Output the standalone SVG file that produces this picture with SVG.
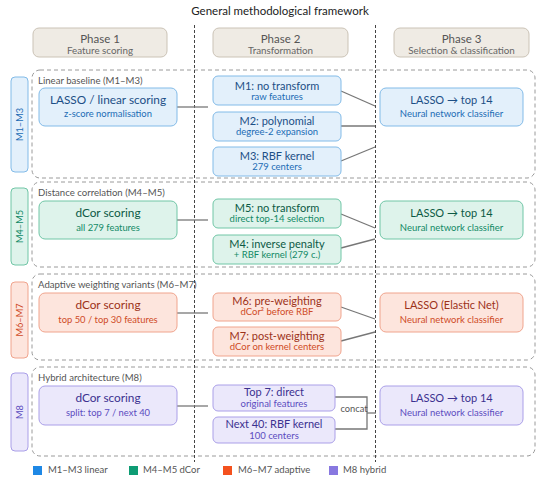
<svg xmlns="http://www.w3.org/2000/svg" width="550" height="487" viewBox="0 0 550 487">
<style>
text{font-family:Lato,"Open Sans","DejaVu Sans",sans-serif;text-anchor:middle;dominant-baseline:central}
.ttl{font-size:11.5px;fill:#222}
.ph{fill:#efebe4;stroke:#cbc3b6;stroke-width:1}
.pht{font-size:11.5px;fill:#555}
.phs{font-size:9.8px;fill:#666}
.grp{fill:none;stroke:#9a9a9a;stroke-width:1;stroke-dasharray:4 3}
.gl{font-size:9.6px;fill:#555;text-anchor:start}
.vd{stroke:#444;stroke-width:1;stroke-dasharray:3 2;fill:none}
.cn{stroke:#777;stroke-width:1.3;fill:none}
.b{fill:#e3f0fb;stroke:#82bbe8}.bt{fill:#1c4f86}.bs{fill:#1b6cb5}
.g{fill:#def3eb;stroke:#70c6a6}.gt{fill:#0c5a45}.gs{fill:#128a66}
.o{fill:#fde5dd;stroke:#f0a48d}.ot{fill:#9c3219}.os{fill:#cf4b26}
.p{fill:#ebe8fb;stroke:#aa9fe8}.pt{fill:#3b3190}.ps{fill:#5b4cc0}
.t1{font-size:11.8px}.t2{font-size:11px}.s1{font-size:9.4px}.s2{font-size:9.5px}
.side{font-size:9.2px}
.lg{font-size:9.5px;fill:#555;text-anchor:start}
</style>
<text class="ttl" x="280" y="10">General methodological framework</text>
<g id="phase1"><rect class="ph" x="33" y="28" width="134" height="29" rx="6"/><text class="pht" x="100" y="38.5">Phase 1</text><text class="phs" x="100" y="49.5">Feature scoring</text></g>
<g id="phase2"><rect class="ph" x="213" y="28" width="135" height="29" rx="6"/><text class="pht" x="280.5" y="38.5">Phase 2</text><text class="phs" x="280.5" y="49.5">Transformation</text></g>
<g id="phase3"><rect class="ph" x="394" y="28" width="135" height="29" rx="6"/><text class="pht" x="461.5" y="38.5">Phase 3</text><text class="phs" x="461.5" y="49.5">Selection &amp; classification</text></g>

<g id="groups">
<rect class="grp" x="32" y="70" width="503" height="108" rx="8"/>
<rect class="grp" x="32" y="182" width="503" height="85" rx="8"/>
<rect class="grp" x="32" y="274" width="503" height="86" rx="8"/>
<rect class="grp" x="32" y="367" width="503" height="89" rx="8"/>
<text class="gl" x="38" y="80">Linear baseline (M1–M3)</text>
<text class="gl" x="38" y="192">Distance correlation (M4–M5)</text>
<text class="gl" x="38" y="284">Adaptive weighting variants (M6–M7)</text>
<text class="gl" x="38" y="377">Hybrid architecture (M8)</text>
</g>

<g id="dividers">
<line class="vd" x1="194.5" y1="25" x2="194.5" y2="462"/>
<line class="vd" x1="375.5" y1="25" x2="375.5" y2="462"/>
</g>

<g id="side-m1m3"><rect class="b" x="11" y="77" width="17" height="95" rx="4"/><text class="side bs" transform="translate(19.5 124.5) rotate(-90)">M1–M3</text></g>
<g id="side-m4m5"><rect class="g" x="11" y="188" width="17" height="77" rx="4"/><text class="side gs" transform="translate(19.5 226.5) rotate(-90)">M4–M5</text></g>
<g id="side-m6m7"><rect class="o" x="11" y="282" width="17" height="76" rx="4"/><text class="side os" transform="translate(19.5 320) rotate(-90)">M6–M7</text></g>
<g id="side-m8"><rect class="p" x="11" y="373" width="17" height="78" rx="4"/><text class="side ps" transform="translate(19.5 412) rotate(-90)">M8</text></g>

<g id="connectors">
<line class="cn" x1="177" y1="107" x2="208" y2="107"/>
<line class="cn" x1="177" y1="220" x2="208" y2="220"/>
<line class="cn" x1="177" y1="313" x2="208" y2="313"/>
<line class="cn" x1="177" y1="406" x2="208" y2="406"/>
<line class="cn" x1="341" y1="91" x2="375" y2="106"/>
<line class="cn" x1="341" y1="126" x2="375" y2="126"/>
<line class="cn" x1="341" y1="161" x2="375" y2="147"/>
<line class="cn" x1="341" y1="214" x2="375" y2="228"/>
<line class="cn" x1="341" y1="248" x2="375" y2="239"/>
<line class="cn" x1="341" y1="307" x2="375" y2="319"/>
<line class="cn" x1="341" y1="341" x2="375" y2="332"/>
<polyline class="cn" points="335,397 367,397 367,429 335,429"/>
<line class="cn" x1="367" y1="413" x2="376" y2="413"/>
<text x="354" y="408" style="font-size:9.3px;fill:#555">concat</text>
</g>

<g id="n-lasso-linear"><rect class="b" x="39" y="88" width="138" height="38" rx="6"/><text class="t1 bt" x="108" y="99">LASSO / linear scoring</text><text class="s1 bs" x="108" y="113">z-score normalisation</text></g>
<g id="n-dcor-all"><rect class="g" x="39" y="201" width="138" height="38" rx="6"/><text class="t1 gt" x="108" y="212">dCor scoring</text><text class="s1 gs" x="108" y="227">all 279 features</text></g>
<g id="n-dcor-top"><rect class="o" x="39" y="293" width="138" height="39" rx="6"/><text class="t1 ot" x="108" y="304">dCor scoring</text><text class="s1 os" x="108" y="319">top 50 / top 30 features</text></g>
<g id="n-dcor-split"><rect class="p" x="39" y="386" width="138" height="39" rx="6"/><text class="t1 pt" x="108" y="397">dCor scoring</text><text class="s1 ps" x="108" y="412">split: top 7 / next 40</text></g>

<g id="n-m1"><rect class="b" x="213" y="76" width="128" height="29" rx="5"/><text class="t2 bt" x="277" y="85">M1: no transform</text><text class="s2 bs" x="277" y="96.5">raw features</text></g>
<g id="n-m2"><rect class="b" x="213" y="112" width="128" height="29" rx="5"/><text class="t2 bt" x="277" y="120">M2: polynomial</text><text class="s2 bs" x="277" y="131.5">degree-2 expansion</text></g>
<g id="n-m3"><rect class="b" x="213" y="147" width="128" height="29" rx="5"/><text class="t2 bt" x="277" y="155">M3: RBF kernel</text><text class="s2 bs" x="277" y="166.5">279 centers</text></g>
<g id="n-m5"><rect class="g" x="213" y="199" width="128" height="29" rx="5"/><text class="t2 gt" x="277" y="207">M5: no transform</text><text class="s2 gs" x="277" y="218.5">direct top-14 selection</text></g>
<g id="n-m4"><rect class="g" x="213" y="235" width="128" height="29" rx="5"/><text class="t2 gt" x="277" y="243">M4: inverse penalty</text><text class="s2 gs" x="277" y="254.5">+ RBF kernel (279 c.)</text></g>
<g id="n-m6"><rect class="o" x="213" y="293" width="128" height="28" rx="5"/><text class="t2 ot" x="277" y="300">M6: pre-weighting</text><text class="s2 os" x="277" y="311.5">dCor² before RBF</text></g>
<g id="n-m7"><rect class="o" x="213" y="327" width="128" height="29" rx="5"/><text class="t2 ot" x="277" y="335">M7: post-weighting</text><text class="s2 os" x="277" y="346.5">dCor on kernel centers</text></g>
<g id="n-top7"><rect class="p" x="213" y="385" width="122" height="26" rx="5"/><text class="t2 pt" x="274" y="391.5">Top 7: direct</text><text class="s2 ps" x="274" y="403">original features</text></g>
<g id="n-next40"><rect class="p" x="213" y="417" width="122" height="26" rx="5"/><text class="t2 pt" x="274" y="423.5">Next 40: RBF kernel</text><text class="s2 ps" x="274" y="435">100 centers</text></g>

<g id="n-p3-1"><rect class="b" x="380" y="88" width="143" height="38" rx="6"/><text class="t2 bt" x="451.5" y="99">LASSO → top 14</text><text class="s2 bs" x="451.5" y="113">Neural network classifier</text></g>
<g id="n-p3-2"><rect class="g" x="380" y="201" width="143" height="38" rx="6"/><text class="t2 gt" x="451.5" y="212">LASSO → top 14</text><text class="s2 gs" x="451.5" y="227">Neural network classifier</text></g>
<g id="n-p3-3"><rect class="o" x="380" y="293" width="143" height="39" rx="6"/><text class="t2 ot" x="451.5" y="304">LASSO (Elastic Net)</text><text class="s2 os" x="451.5" y="319">Neural network classifier</text></g>
<g id="n-p3-4"><rect class="p" x="380" y="386" width="143" height="39" rx="6"/><text class="t2 pt" x="451.5" y="397">LASSO → top 14</text><text class="s2 ps" x="451.5" y="412">Neural network classifier</text></g>

<g id="legend">
<rect x="33" y="466" width="9" height="9" fill="#1e88e5"/><text class="lg" x="48" y="469">M1–M3 linear</text>
<rect x="129" y="466" width="9" height="9" fill="#0e9c74"/><text class="lg" x="143" y="469">M4–M5 dCor</text>
<rect x="223" y="466" width="9" height="9" fill="#f4511e"/><text class="lg" x="238" y="469">M6–M7 adaptive</text>
<rect x="329" y="466" width="9" height="9" fill="#8878e0"/><text class="lg" x="343" y="469">M8 hybrid</text>
</g>
</svg>
